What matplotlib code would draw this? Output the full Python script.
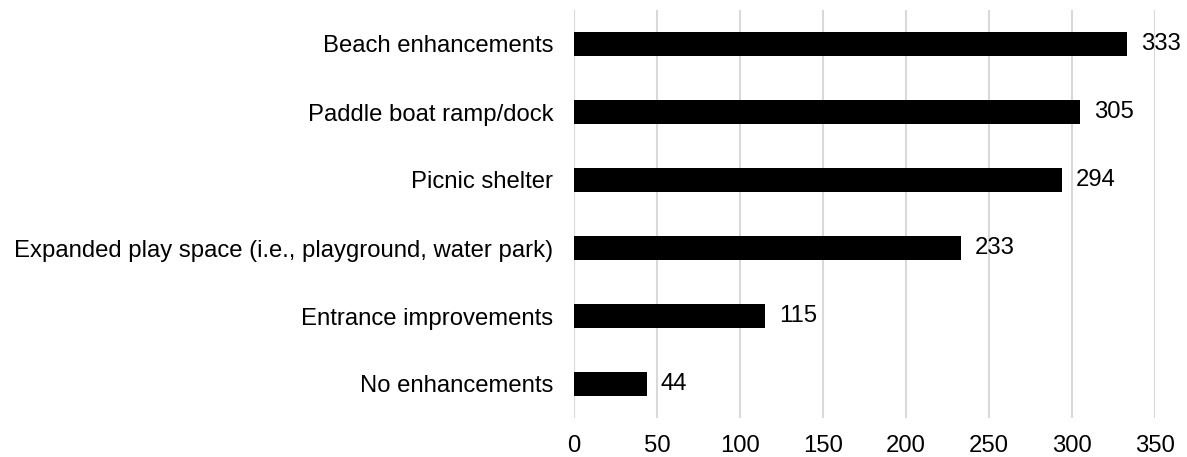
import matplotlib
matplotlib.use('Agg')
import matplotlib.pyplot as plt

plt.rcParams['font.family'] = ['Liberation Sans', 'DejaVu Sans']

categories = ['Beach enhancements', 'Paddle boat ramp/dock', 'Picnic shelter',
              'Expanded play space (i.e., playground, water park)',
              'Entrance improvements', 'No enhancements']
counts = [333, 305, 294, 233, 115, 44]
xticks = [0, 50, 100, 150, 200, 250, 300, 350]

fs = 17.2

fig = plt.figure(figsize=(11.87, 4.57), dpi=100)
ax = fig.add_axes([574 / 1187, 1 - 418 / 457, (1155 - 574) / 1187, 408 / 457])

pos = list(range(len(categories)))
ax.barh(pos, counts, height=0.36, color='black', zorder=3)

# value labels right of each bar
for y, v in zip(pos, counts):
    ax.annotate(str(v), (v, y), xytext=(10, 0), textcoords='offset points',
                va='center', ha='left', fontsize=fs, color='black')

ax.set_xlim(0, 350)
ax.set_ylim(len(categories) - 0.5, -0.5)
ax.set_yticks(pos)
ax.set_yticklabels(categories, fontsize=fs)
ax.set_xticks(xticks)
ax.set_xticklabels([str(t) for t in xticks], fontsize=fs)
ax.tick_params(length=0)
ax.tick_params(axis='y', pad=15)
ax.tick_params(axis='x', pad=12)

ax.grid(axis='x', color='#d9d9d9', linewidth=1.5, zorder=0)
ax.set_axisbelow(True)
for s in ax.spines.values():
    s.set_visible(False)
ax.axvline(0, color='#d9d9d9', linewidth=1.5, zorder=1)

fig.savefig('out.png', dpi=100)
